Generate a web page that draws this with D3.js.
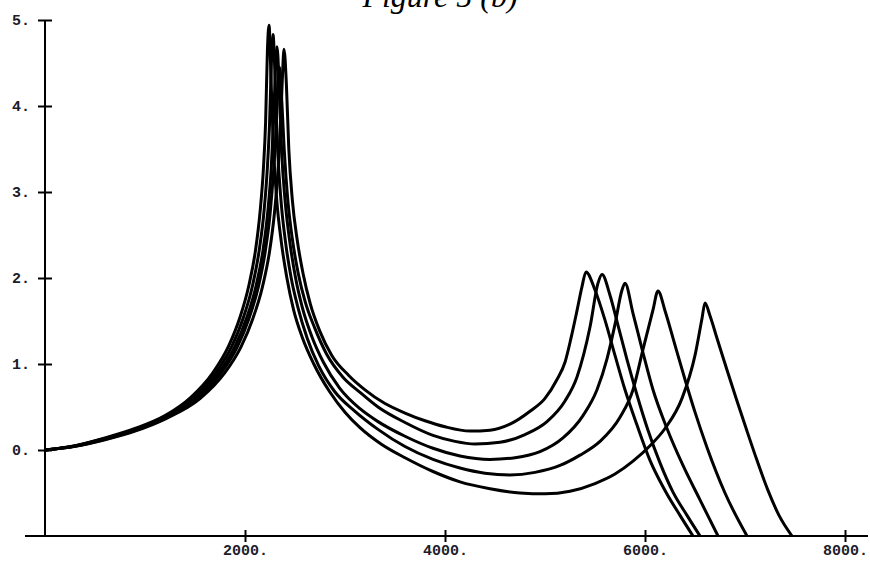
<!DOCTYPE html>
<html>
<head>
<meta charset="utf-8">
<script src="https://cdn.jsdelivr.net/npm/d3@7"></script>
<style>
  body { margin: 0; background: #fff; }
  svg { display: block; }
</style>
</head>
<body>
<script>
// chart text and ticks
const title = "Figure 5 (b)";
const xTicks = [2000, 4000, 6000, 8000];
const yTicks = [0, 1, 2, 3, 4, 5];

// response curves, [x, y]
const curveA = [[0,0],[300,0.042],[600,0.12],[900,0.22],[1200,0.36],[1553,0.6],[1793,0.89],[1960,1.2],[2079,1.53],[2175,1.9],[2247,2.32],[2294,2.75],[2330,3.25],[2354,3.75],[2373,4.3],[2390,4.66],
  [2414,4.25],[2438,3.5],[2474,2.9],[2521,2.45],[2581,2.05],[2653,1.7],[2749,1.38],[2868,1.1],[3035,0.87],[3200,0.7],[3400,0.54],[3600,0.43],[3800,0.34],[4000,0.27],[4250,0.22],[4450,0.23],[4650,0.3],[4850,0.45],[5000,0.6],[5120,0.82],[5200,1.02],[5260,1.3],[5320,1.62],[5370,1.9],[5410,2.07],
  [5500,1.86],[5600,1.51],[5700,1.1],[5800,0.7],[5920,0.29],[6050,-0.12],[6200,-0.47],[6350,-0.76],[6480,-1.0]];

const curveB = [[0,0],[300,0.044],[600,0.125],[900,0.23],[1200,0.37],[1524,0.6],[1759,0.89],[1923,1.2],[2040,1.53],[2134,1.9],[2204,2.32],[2251,2.75],[2286,3.25],[2310,3.7],[2328,4.2],[2345,4.45],
  [2368,4.05],[2392,3.5],[2427,2.92],[2474,2.45],[2533,2.05],[2603,1.72],[2697,1.42],[2814,1.12],[2978,0.85],[3150,0.67],[3330,0.5],[3600,0.32],[3880,0.17],[4100,0.1],[4300,0.07],[4550,0.09],[4800,0.18],[5020,0.33],[5200,0.57],[5320,0.85],[5450,1.43],[5530,1.94],[5570,2.04],
  [5650,1.8],[5730,1.45],[5820,1.05],[5920,0.64],[6030,0.23],[6150,-0.15],[6280,-0.49],[6420,-0.76],[6550,-1.0]];

const curveC = [[0,0],[300,0.046],[600,0.13],[900,0.235],[1200,0.38],[1508,0.61],[1740,0.9],[1902,1.21],[2018,1.54],[2111,1.91],[2181,2.33],[2227,2.76],[2262,3.27],[2285,3.81],[2304,4.4],[2320,4.69],
  [2343,4.2],[2366,3.48],[2401,2.9],[2448,2.42],[2506,2.0],[2575,1.65],[2668,1.32],[2784,1.02],[2946,0.72],[3150,0.48],[3330,0.33],[3600,0.16],[3880,0.02],[4150,-0.07],[4450,-0.11],[4700,-0.09],[4950,-0.02],[5180,0.14],[5380,0.4],[5520,0.7],[5620,1.06],[5700,1.46],[5770,1.86],[5800,1.94],
  [5880,1.59],[5980,1.13],[6080,0.7],[6220,0.25],[6380,-0.18],[6550,-0.58],[6730,-1.0]];

const curveD = [[0,0],[300,0.048],[600,0.135],[900,0.24],[1200,0.39],[1482,0.61],[1710,0.9],[1870,1.21],[1984,1.54],[2075,1.91],[2143,2.33],[2189,2.76],[2223,3.27],[2246,3.81],[2264,4.5],[2280,4.83],
  [2303,4.25],[2326,3.5],[2360,2.9],[2405,2.42],[2462,2.0],[2531,1.65],[2622,1.3],[2736,0.98],[2896,0.68],[3100,0.45],[3330,0.24],[3600,0.04],[3880,-0.11],[4150,-0.21],[4400,-0.27],[4650,-0.29],[4900,-0.26],[5150,-0.18],[5350,-0.06],[5550,0.1],[5750,0.38],[5880,0.7],[5980,1.17],[6080,1.63],[6130,1.85],
  [6200,1.62],[6300,1.22],[6400,0.82],[6500,0.44],[6620,0.03],[6800,-0.5],[7020,-1.0]];

const curveE = [[0,0],[300,0.05],[600,0.14],[900,0.25],[1200,0.4],[1456,0.61],[1680,0.9],[1837,1.21],[1949,1.54],[2038,1.91],[2106,2.33],[2150,2.76],[2184,3.27],[2206,3.81],[2224,4.64],[2240,4.94],
  [2262,4.25],[2285,3.5],[2318,2.9],[2363,2.42],[2419,2.0],[2486,1.63],[2576,1.3],[2688,1.0],[2845,0.68],[3000,0.44],[3150,0.26],[3360,0.07],[3600,-0.09],[3880,-0.25],[4150,-0.37],[4450,-0.45],[4750,-0.5],[5000,-0.51],[5250,-0.48],[5500,-0.39],[5700,-0.28],[5880,-0.13],[6050,0.05],[6200,0.25],[6370,0.6],[6500,1.1],[6570,1.53],[6600,1.71],
  [6650,1.56],[6720,1.3],[6820,0.93],[6920,0.57],[7020,0.22],[7120,-0.12],[7230,-0.47],[7340,-0.76],[7470,-1.0]];

const curves = [curveA, curveB, curveC, curveD, curveE];

const width = 870, height = 569;

const svg = d3.select("body")
  .append("svg")
  .attr("width", width)
  .attr("height", height);

const x = d3.scaleLinear().domain([0, 8000]).range([45, 845]);
const y = d3.scaleLinear().domain([-1, 5]).range([536, 20]);

// title, mostly cut off by the top edge (as in the original)
svg.append("text")
  .attr("x", 440)
  .attr("y", 7)
  .attr("text-anchor", "middle")
  .style("font-family", "'Liberation Serif', serif")
  .style("font-style", "italic")
  .style("font-size", "32px")
  .text(title);

// curves
svg.append("clipPath").attr("id", "plot")
  .append("rect").attr("x", 45).attr("y", 0).attr("width", 825).attr("height", y(-1));

const line = d3.line()
  .x(d => x(d[0]))
  .y(d => y(d[1]))
  .curve(d3.curveMonotoneX);

svg.append("g")
  .attr("clip-path", "url(#plot)")
  .selectAll("path")
  .data(curves)
  .enter()
  .append("path")
  .attr("d", line)
  .attr("fill", "none")
  .attr("stroke", "#000")
  .attr("stroke-width", 3)
  .attr("stroke-linejoin", "round");

// axes
const labelStyle = g => g.selectAll("text")
  .style("font-family", "'Liberation Mono', monospace")
  .style("font-weight", "bold")
  .style("font-size", "15px")
  .attr("fill", "#1c1c2a");

svg.append("g")
  .attr("transform", `translate(${x(0)},0)`)
  .call(d3.axisLeft(y).tickValues(yTicks).tickFormat(d => d + ".").tickSize(0).tickPadding(15))
  .call(g => g.select(".domain").remove())
  .call(g => g.selectAll(".tick line").attr("x1", -7).attr("x2", 7).attr("stroke", "#000").attr("stroke-width", 2))
  .call(labelStyle);

svg.append("g")
  .attr("transform", `translate(0,${y(-1)})`)
  .call(d3.axisBottom(x).tickValues(xTicks).tickFormat(d => d + ".").tickSize(0).tickPadding(8))
  .call(g => g.select(".domain").remove())
  .call(g => g.selectAll(".tick line").attr("y1", -6).attr("y2", 6).attr("stroke", "#000").attr("stroke-width", 2))
  .call(labelStyle);

// axis lines
svg.append("line")
  .attr("x1", x(0)).attr("x2", x(0))
  .attr("y1", y(5)).attr("y2", y(-1))
  .attr("stroke", "#000").attr("stroke-width", 2);

svg.append("line")
  .attr("x1", 25).attr("x2", 868)
  .attr("y1", y(-1)).attr("y2", y(-1))
  .attr("stroke", "#000").attr("stroke-width", 2);
</script>
</body>
</html>
